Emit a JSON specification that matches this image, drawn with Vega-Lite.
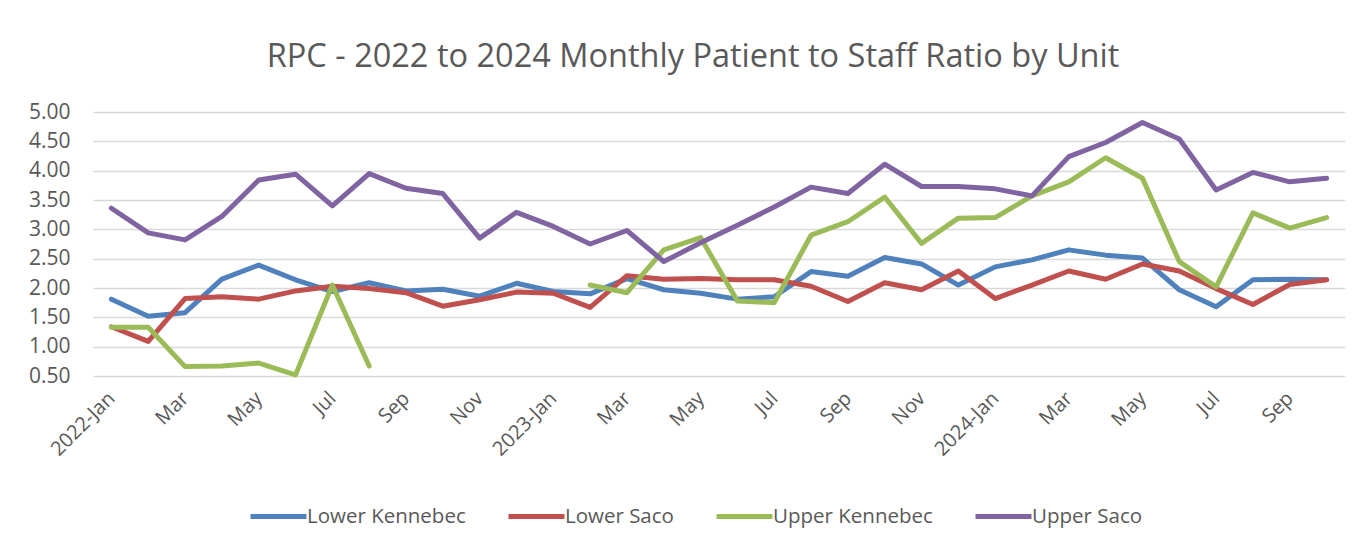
{
  "$schema": "https://vega.github.io/schema/vega-lite/v6.json",
  "autosize": "none",
  "width": 1252,
  "height": 264,
  "padding": {"left": 93, "top": 112, "right": 18, "bottom": 172},
  "background": "white",
  "title": {
    "text": "RPC - 2022 to 2024 Monthly Patient to Staff Ratio by Unit",
    "font": "Open Sans",
    "fontSize": 32.5,
    "fontWeight": "normal",
    "color": "#595959",
    "anchor": "middle",
    "dx": -26,
    "offset": 28
  },
  "datasets": {
    "ratios": [
      {"month": "2022-Jan", "unit": "Lower Kennebec", "ratio": 1.81},
      {"month": "2022-Feb", "unit": "Lower Kennebec", "ratio": 1.52},
      {"month": "2022-Mar", "unit": "Lower Kennebec", "ratio": 1.58},
      {"month": "2022-Apr", "unit": "Lower Kennebec", "ratio": 2.15},
      {"month": "2022-May", "unit": "Lower Kennebec", "ratio": 2.39},
      {"month": "2022-Jun", "unit": "Lower Kennebec", "ratio": 2.14},
      {"month": "2022-Jul", "unit": "Lower Kennebec", "ratio": 1.94},
      {"month": "2022-Aug", "unit": "Lower Kennebec", "ratio": 2.09},
      {"month": "2022-Sep", "unit": "Lower Kennebec", "ratio": 1.95},
      {"month": "2022-Oct", "unit": "Lower Kennebec", "ratio": 1.98},
      {"month": "2022-Nov", "unit": "Lower Kennebec", "ratio": 1.86},
      {"month": "2022-Dec", "unit": "Lower Kennebec", "ratio": 2.08},
      {"month": "2023-Jan", "unit": "Lower Kennebec", "ratio": 1.94},
      {"month": "2023-Feb", "unit": "Lower Kennebec", "ratio": 1.90},
      {"month": "2023-Mar", "unit": "Lower Kennebec", "ratio": 2.16},
      {"month": "2023-Apr", "unit": "Lower Kennebec", "ratio": 1.97},
      {"month": "2023-May", "unit": "Lower Kennebec", "ratio": 1.91},
      {"month": "2023-Jun", "unit": "Lower Kennebec", "ratio": 1.81},
      {"month": "2023-Jul", "unit": "Lower Kennebec", "ratio": 1.85},
      {"month": "2023-Aug", "unit": "Lower Kennebec", "ratio": 2.28},
      {"month": "2023-Sep", "unit": "Lower Kennebec", "ratio": 2.20},
      {"month": "2023-Oct", "unit": "Lower Kennebec", "ratio": 2.52},
      {"month": "2023-Nov", "unit": "Lower Kennebec", "ratio": 2.41},
      {"month": "2023-Dec", "unit": "Lower Kennebec", "ratio": 2.05},
      {"month": "2024-Jan", "unit": "Lower Kennebec", "ratio": 2.36},
      {"month": "2024-Feb", "unit": "Lower Kennebec", "ratio": 2.48},
      {"month": "2024-Mar", "unit": "Lower Kennebec", "ratio": 2.65},
      {"month": "2024-Apr", "unit": "Lower Kennebec", "ratio": 2.56},
      {"month": "2024-May", "unit": "Lower Kennebec", "ratio": 2.51},
      {"month": "2024-Jun", "unit": "Lower Kennebec", "ratio": 1.97},
      {"month": "2024-Jul", "unit": "Lower Kennebec", "ratio": 1.68},
      {"month": "2024-Aug", "unit": "Lower Kennebec", "ratio": 2.14},
      {"month": "2024-Sep", "unit": "Lower Kennebec", "ratio": 2.15},
      {"month": "2024-Oct", "unit": "Lower Kennebec", "ratio": 2.14},

      {"month": "2022-Jan", "unit": "Lower Saco", "ratio": 1.34},
      {"month": "2022-Feb", "unit": "Lower Saco", "ratio": 1.09},
      {"month": "2022-Mar", "unit": "Lower Saco", "ratio": 1.82},
      {"month": "2022-Apr", "unit": "Lower Saco", "ratio": 1.85},
      {"month": "2022-May", "unit": "Lower Saco", "ratio": 1.81},
      {"month": "2022-Jun", "unit": "Lower Saco", "ratio": 1.95},
      {"month": "2022-Jul", "unit": "Lower Saco", "ratio": 2.03},
      {"month": "2022-Aug", "unit": "Lower Saco", "ratio": 1.99},
      {"month": "2022-Sep", "unit": "Lower Saco", "ratio": 1.92},
      {"month": "2022-Oct", "unit": "Lower Saco", "ratio": 1.69},
      {"month": "2022-Nov", "unit": "Lower Saco", "ratio": 1.80},
      {"month": "2022-Dec", "unit": "Lower Saco", "ratio": 1.93},
      {"month": "2023-Jan", "unit": "Lower Saco", "ratio": 1.91},
      {"month": "2023-Feb", "unit": "Lower Saco", "ratio": 1.67},
      {"month": "2023-Mar", "unit": "Lower Saco", "ratio": 2.21},
      {"month": "2023-Apr", "unit": "Lower Saco", "ratio": 2.15},
      {"month": "2023-May", "unit": "Lower Saco", "ratio": 2.16},
      {"month": "2023-Jun", "unit": "Lower Saco", "ratio": 2.14},
      {"month": "2023-Jul", "unit": "Lower Saco", "ratio": 2.14},
      {"month": "2023-Aug", "unit": "Lower Saco", "ratio": 2.03},
      {"month": "2023-Sep", "unit": "Lower Saco", "ratio": 1.77},
      {"month": "2023-Oct", "unit": "Lower Saco", "ratio": 2.09},
      {"month": "2023-Nov", "unit": "Lower Saco", "ratio": 1.97},
      {"month": "2023-Dec", "unit": "Lower Saco", "ratio": 2.29},
      {"month": "2024-Jan", "unit": "Lower Saco", "ratio": 1.82},
      {"month": "2024-Feb", "unit": "Lower Saco", "ratio": 2.05},
      {"month": "2024-Mar", "unit": "Lower Saco", "ratio": 2.29},
      {"month": "2024-Apr", "unit": "Lower Saco", "ratio": 2.15},
      {"month": "2024-May", "unit": "Lower Saco", "ratio": 2.41},
      {"month": "2024-Jun", "unit": "Lower Saco", "ratio": 2.29},
      {"month": "2024-Jul", "unit": "Lower Saco", "ratio": 1.99},
      {"month": "2024-Aug", "unit": "Lower Saco", "ratio": 1.72},
      {"month": "2024-Sep", "unit": "Lower Saco", "ratio": 2.06},
      {"month": "2024-Oct", "unit": "Lower Saco", "ratio": 2.14},

      {"month": "2022-Jan", "unit": "Upper Kennebec", "ratio": 1.33},
      {"month": "2022-Feb", "unit": "Upper Kennebec", "ratio": 1.33},
      {"month": "2022-Mar", "unit": "Upper Kennebec", "ratio": 0.66},
      {"month": "2022-Apr", "unit": "Upper Kennebec", "ratio": 0.67},
      {"month": "2022-May", "unit": "Upper Kennebec", "ratio": 0.72},
      {"month": "2022-Jun", "unit": "Upper Kennebec", "ratio": 0.52},
      {"month": "2022-Jul", "unit": "Upper Kennebec", "ratio": 2.05},
      {"month": "2022-Aug", "unit": "Upper Kennebec", "ratio": 0.67},
      {"month": "2022-Sep", "unit": "Upper Kennebec", "ratio": null},
      {"month": "2022-Oct", "unit": "Upper Kennebec", "ratio": null},
      {"month": "2022-Nov", "unit": "Upper Kennebec", "ratio": null},
      {"month": "2022-Dec", "unit": "Upper Kennebec", "ratio": null},
      {"month": "2023-Jan", "unit": "Upper Kennebec", "ratio": null},
      {"month": "2023-Feb", "unit": "Upper Kennebec", "ratio": 2.05},
      {"month": "2023-Mar", "unit": "Upper Kennebec", "ratio": 1.92},
      {"month": "2023-Apr", "unit": "Upper Kennebec", "ratio": 2.65},
      {"month": "2023-May", "unit": "Upper Kennebec", "ratio": 2.86},
      {"month": "2023-Jun", "unit": "Upper Kennebec", "ratio": 1.78},
      {"month": "2023-Jul", "unit": "Upper Kennebec", "ratio": 1.75},
      {"month": "2023-Aug", "unit": "Upper Kennebec", "ratio": 2.90},
      {"month": "2023-Sep", "unit": "Upper Kennebec", "ratio": 3.13},
      {"month": "2023-Oct", "unit": "Upper Kennebec", "ratio": 3.55},
      {"month": "2023-Nov", "unit": "Upper Kennebec", "ratio": 2.76},
      {"month": "2023-Dec", "unit": "Upper Kennebec", "ratio": 3.19},
      {"month": "2024-Jan", "unit": "Upper Kennebec", "ratio": 3.20},
      {"month": "2024-Feb", "unit": "Upper Kennebec", "ratio": 3.57},
      {"month": "2024-Mar", "unit": "Upper Kennebec", "ratio": 3.81},
      {"month": "2024-Apr", "unit": "Upper Kennebec", "ratio": 4.22},
      {"month": "2024-May", "unit": "Upper Kennebec", "ratio": 3.87},
      {"month": "2024-Jun", "unit": "Upper Kennebec", "ratio": 2.45},
      {"month": "2024-Jul", "unit": "Upper Kennebec", "ratio": 2.02},
      {"month": "2024-Aug", "unit": "Upper Kennebec", "ratio": 3.28},
      {"month": "2024-Sep", "unit": "Upper Kennebec", "ratio": 3.02},
      {"month": "2024-Oct", "unit": "Upper Kennebec", "ratio": 3.20},

      {"month": "2022-Jan", "unit": "Upper Saco", "ratio": 3.36},
      {"month": "2022-Feb", "unit": "Upper Saco", "ratio": 2.94},
      {"month": "2022-Mar", "unit": "Upper Saco", "ratio": 2.82},
      {"month": "2022-Apr", "unit": "Upper Saco", "ratio": 3.22},
      {"month": "2022-May", "unit": "Upper Saco", "ratio": 3.84},
      {"month": "2022-Jun", "unit": "Upper Saco", "ratio": 3.94},
      {"month": "2022-Jul", "unit": "Upper Saco", "ratio": 3.40},
      {"month": "2022-Aug", "unit": "Upper Saco", "ratio": 3.95},
      {"month": "2022-Sep", "unit": "Upper Saco", "ratio": 3.70},
      {"month": "2022-Oct", "unit": "Upper Saco", "ratio": 3.61},
      {"month": "2022-Nov", "unit": "Upper Saco", "ratio": 2.85},
      {"month": "2022-Dec", "unit": "Upper Saco", "ratio": 3.29},
      {"month": "2023-Jan", "unit": "Upper Saco", "ratio": 3.05},
      {"month": "2023-Feb", "unit": "Upper Saco", "ratio": 2.75},
      {"month": "2023-Mar", "unit": "Upper Saco", "ratio": 2.98},
      {"month": "2023-Apr", "unit": "Upper Saco", "ratio": 2.45},
      {"month": "2023-May", "unit": "Upper Saco", "ratio": 2.77},
      {"month": "2023-Jun", "unit": "Upper Saco", "ratio": 3.07},
      {"month": "2023-Jul", "unit": "Upper Saco", "ratio": 3.38},
      {"month": "2023-Aug", "unit": "Upper Saco", "ratio": 3.72},
      {"month": "2023-Sep", "unit": "Upper Saco", "ratio": 3.61},
      {"month": "2023-Oct", "unit": "Upper Saco", "ratio": 4.11},
      {"month": "2023-Nov", "unit": "Upper Saco", "ratio": 3.73},
      {"month": "2023-Dec", "unit": "Upper Saco", "ratio": 3.73},
      {"month": "2024-Jan", "unit": "Upper Saco", "ratio": 3.69},
      {"month": "2024-Feb", "unit": "Upper Saco", "ratio": 3.57},
      {"month": "2024-Mar", "unit": "Upper Saco", "ratio": 4.24},
      {"month": "2024-Apr", "unit": "Upper Saco", "ratio": 4.48},
      {"month": "2024-May", "unit": "Upper Saco", "ratio": 4.82},
      {"month": "2024-Jun", "unit": "Upper Saco", "ratio": 4.54},
      {"month": "2024-Jul", "unit": "Upper Saco", "ratio": 3.67},
      {"month": "2024-Aug", "unit": "Upper Saco", "ratio": 3.97},
      {"month": "2024-Sep", "unit": "Upper Saco", "ratio": 3.81},
      {"month": "2024-Oct", "unit": "Upper Saco", "ratio": 3.87}
    ]
  },
  "data": {"name": "ratios"},
  "mark": {
    "type": "line",
    "strokeWidth": 5,
    "strokeJoin": "round",
    "strokeCap": "round",
    "invalid": "break-paths-show-domains"
  },
  "encoding": {
    "x": {
      "field": "month",
      "type": "ordinal",
      "sort": null,
      "scale": {"type": "point", "padding": 0.5},
      "axis": {
        "title": null,
        "values": ["2022-Jan", "2022-Mar", "2022-May", "2022-Jul", "2022-Sep", "2022-Nov", "2023-Jan", "2023-Mar", "2023-May", "2023-Jul", "2023-Sep", "2023-Nov", "2024-Jan", "2024-Mar", "2024-May", "2024-Jul", "2024-Sep"],
        "labelExpr": "indexof(datum.value, 'Jan') >= 0 ? datum.value : slice(datum.value, 5)",
        "labelAngle": -45,
        "labelAlign": "right",
        "labelBaseline": "middle",
        "labelPadding": 19,
        "ticks": false,
        "domain": false,
        "grid": false,
        "labelFont": "Open Sans",
        "labelFontSize": 20,
        "labelColor": "#595959"
      }
    },
    "y": {
      "field": "ratio",
      "type": "quantitative",
      "scale": {"domain": [0.5, 5], "nice": false, "zero": false},
      "axis": {
        "title": null,
        "values": [0.5, 1, 1.5, 2, 2.5, 3, 3.5, 4, 4.5, 5],
        "format": ".2f",
        "ticks": false,
        "domain": false,
        "grid": true,
        "gridColor": "#d9d9d9",
        "gridWidth": 1.3,
        "labelPadding": 23,
        "labelFont": "Open Sans",
        "labelFontSize": 21,
        "labelColor": "#595959"
      }
    },
    "color": {
      "field": "unit",
      "type": "nominal",
      "scale": {
        "domain": ["Lower Kennebec", "Lower Saco", "Upper Kennebec", "Upper Saco"],
        "range": ["#4F81BD", "#C0504D", "#9BBB59", "#8064A2"]
      },
      "legend": {
        "title": null,
        "orient": "none",
        "direction": "horizontal",
        "legendX": 155,
        "legendY": 374,
        "symbolType": "stroke",
        "symbolSize": 3136,
        "symbolStrokeWidth": 5,
        "labelOffset": -2,
        "labelLimit": 400,
        "columnPadding": 32,
        "labelFont": "Open Sans",
        "labelFontSize": 20.5,
        "labelColor": "#595959"
      }
    }
  },
  "config": {
    "view": {"stroke": null}
  }
}
